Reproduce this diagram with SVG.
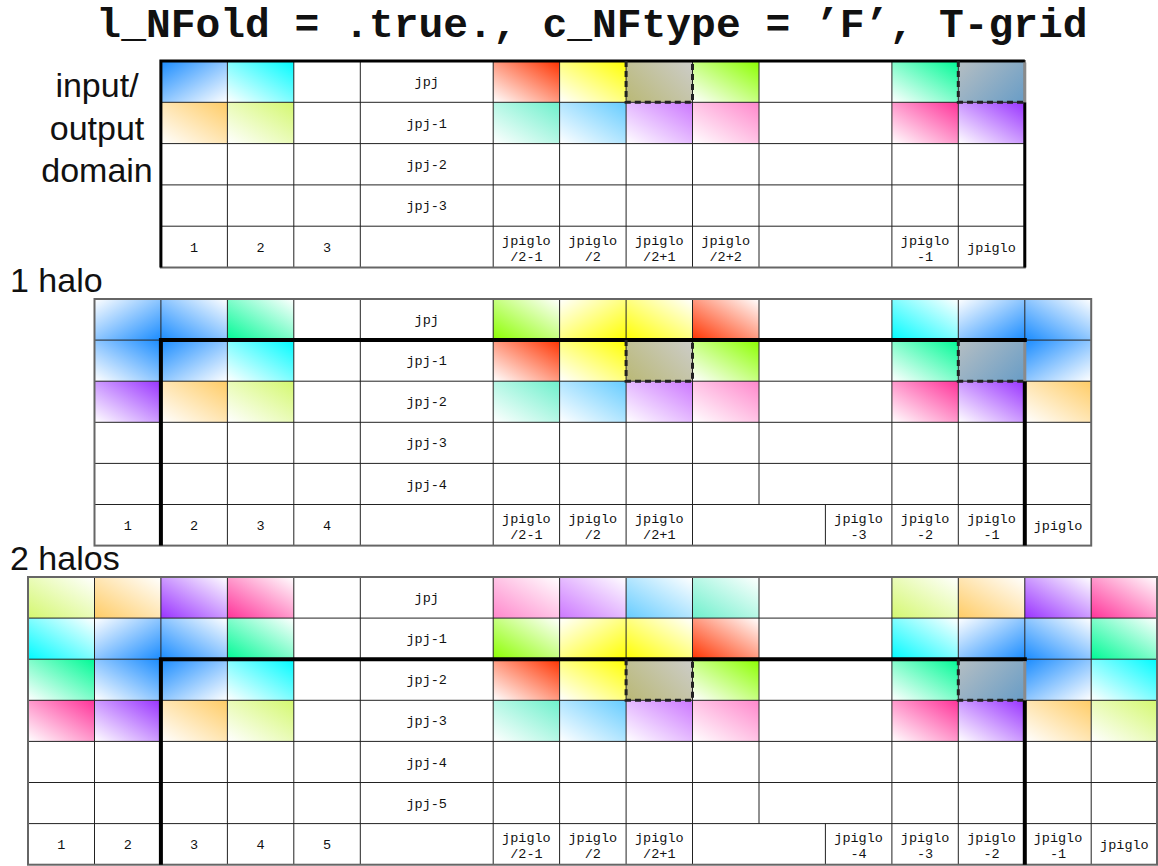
<svg xmlns="http://www.w3.org/2000/svg" width="1158" height="866" viewBox="0 0 1158 866">
<defs>
<style>
.g{stroke:#222;stroke-width:1;fill:none}
.o{fill:none;stroke:#666;stroke-width:2}
.lb{font-family:'Liberation Mono','Courier New',monospace;font-size:13.5px;fill:#111;text-anchor:middle}
.big{font-family:'Liberation Sans',Arial,Helvetica,sans-serif;font-size:34px;fill:#111}
.tt{font-family:'Liberation Mono','Courier New',monospace;font-size:41.3px;font-weight:bold;fill:#111;text-anchor:middle}
.tk{stroke:#000;stroke-width:4;fill:none;stroke-linejoin:miter}
.tk3{stroke:#000;stroke-width:3;fill:none;stroke-linejoin:miter}
.tg{stroke:#8a8a8a;stroke-width:3;fill:none}
.ds{stroke:#222;stroke-width:3;stroke-dasharray:6 4;fill:none}
</style>
<linearGradient id="Bu" x1="0" y1="1" x2="1" y2="0"><stop offset="0" stop-color="#fff"/><stop offset="1" stop-color="#1a8cff"/></linearGradient>
<linearGradient id="Bd" href="#Bu" x1="1" y1="0" x2="0" y2="1"/>
<linearGradient id="Btl" href="#Bu" x1="1" y1="1" x2="0" y2="0"/>
<linearGradient id="Bbr" href="#Bu" x1="0" y1="0" x2="1" y2="1"/>
<linearGradient id="Cu" x1="0" y1="1" x2="1" y2="0"><stop offset="0" stop-color="#fff"/><stop offset="1" stop-color="#00fbff"/></linearGradient>
<linearGradient id="Cd" href="#Cu" x1="1" y1="0" x2="0" y2="1"/>
<linearGradient id="Su" x1="0" y1="1" x2="1" y2="0"><stop offset="0" stop-color="#fff"/><stop offset="1" stop-color="#00fa96"/></linearGradient>
<linearGradient id="Sd" href="#Su" x1="1" y1="0" x2="0" y2="1"/>
<linearGradient id="Ru" x1="0" y1="1" x2="1" y2="0"><stop offset="0" stop-color="#fff"/><stop offset="1" stop-color="#ff3300"/></linearGradient>
<linearGradient id="Rd" href="#Ru" x1="1" y1="0" x2="0" y2="1"/>
<linearGradient id="Yu" x1="0" y1="1" x2="1" y2="0"><stop offset="0" stop-color="#fff"/><stop offset="1" stop-color="#ffff00"/></linearGradient>
<linearGradient id="Yd" href="#Yu" x1="1" y1="0" x2="0" y2="1"/>
<linearGradient id="Ybr" href="#Yu" x1="0" y1="0" x2="1" y2="1"/>
<linearGradient id="Lu" x1="0" y1="1" x2="1" y2="0"><stop offset="0" stop-color="#fff"/><stop offset="1" stop-color="#8cff00"/></linearGradient>
<linearGradient id="Ld" href="#Lu" x1="1" y1="0" x2="0" y2="1"/>
<linearGradient id="Ou" x1="0" y1="1" x2="1" y2="0"><stop offset="0" stop-color="#fff"/><stop offset="1" stop-color="#ffcc66"/></linearGradient>
<linearGradient id="Od" href="#Ou" x1="1" y1="0" x2="0" y2="1"/>
<linearGradient id="Gu" x1="0" y1="1" x2="1" y2="0"><stop offset="0" stop-color="#fff"/><stop offset="1" stop-color="#d4f870"/></linearGradient>
<linearGradient id="Gd" href="#Gu" x1="1" y1="0" x2="0" y2="1"/>
<linearGradient id="Au" x1="0" y1="1" x2="1" y2="0"><stop offset="0" stop-color="#fff"/><stop offset="1" stop-color="#6ef0cc"/></linearGradient>
<linearGradient id="Ad" href="#Au" x1="1" y1="0" x2="0" y2="1"/>
<linearGradient id="Ku" x1="0" y1="1" x2="1" y2="0"><stop offset="0" stop-color="#fff"/><stop offset="1" stop-color="#66ccff"/></linearGradient>
<linearGradient id="Kd" href="#Ku" x1="1" y1="0" x2="0" y2="1"/>
<linearGradient id="Pu" x1="0" y1="1" x2="1" y2="0"><stop offset="0" stop-color="#fff"/><stop offset="1" stop-color="#cc77ff"/></linearGradient>
<linearGradient id="Pd" href="#Pu" x1="1" y1="0" x2="0" y2="1"/>
<linearGradient id="Nu" x1="0" y1="1" x2="1" y2="0"><stop offset="0" stop-color="#fff"/><stop offset="1" stop-color="#ff88cc"/></linearGradient>
<linearGradient id="Nd" href="#Nu" x1="1" y1="0" x2="0" y2="1"/>
<linearGradient id="Hu" x1="0" y1="1" x2="1" y2="0"><stop offset="0" stop-color="#fff"/><stop offset="1" stop-color="#ff3399"/></linearGradient>
<linearGradient id="Hd" href="#Hu" x1="1" y1="0" x2="0" y2="1"/>
<linearGradient id="Vu" x1="0" y1="1" x2="1" y2="0"><stop offset="0" stop-color="#fff"/><stop offset="1" stop-color="#9933ff"/></linearGradient>
<linearGradient id="Vd" href="#Vu" x1="1" y1="0" x2="0" y2="1"/>
<linearGradient id="Ol" x1="0" y1="0.8" x2="1" y2="0.2"><stop offset="0" stop-color="#bbba7c"/><stop offset="1" stop-color="#cbcbc3"/></linearGradient>
<linearGradient id="Gb" x1="0" y1="0.2" x2="1" y2="0.8"><stop offset="0" stop-color="#b0bcc3"/><stop offset="1" stop-color="#6e9fc6"/></linearGradient>
</defs>
<rect width="1158" height="866" fill="#fff"/>

<g id="title"><text class="tt" x="592" y="37">l_NFold = .true., c_NFtype = ’F’, T-grid</text></g>

<g id="section-labels">
<text class="big" x="97" y="97" text-anchor="middle">input/</text>
<text class="big" x="97" y="139.5" text-anchor="middle">output</text>
<text class="big" x="97" y="181.5" text-anchor="middle">domain</text>
<text class="big" x="10" y="292">1 halo</text>
<text class="big" x="10" y="570">2 halos</text>
</g>

<!-- ===== input/output domain grid ===== -->
<g id="grid-domain">
<g id="domain-cells">
<rect id="d-r0-c1" x="160.9" y="61" width="66.5" height="41.3" fill="url(#Btl)"/>
<rect id="d-r0-c2" x="227.4" y="61" width="66.4" height="41.3" fill="url(#Cu)"/>
<rect id="d-r0-h1" x="493.2" y="61" width="66.4" height="41.3" fill="url(#Ru)"/>
<rect id="d-r0-h2" x="559.6" y="61" width="66.5" height="41.3" fill="url(#Yu)"/>
<rect id="d-r0-h3" x="626.1" y="61" width="66.4" height="41.3" fill="url(#Ol)"/>
<rect id="d-r0-h4" x="692.5" y="61" width="66.5" height="41.3" fill="url(#Lu)"/>
<rect id="d-r0-e1" x="891.9" y="61" width="66.4" height="41.3" fill="url(#Su)"/>
<rect id="d-r0-e0" x="958.3" y="61" width="66.5" height="41.3" fill="url(#Gb)"/>
<rect id="d-r1-c1" x="160.9" y="102.3" width="66.5" height="41.3" fill="url(#Ou)"/>
<rect id="d-r1-c2" x="227.4" y="102.3" width="66.4" height="41.3" fill="url(#Gu)"/>
<rect id="d-r1-h1" x="493.2" y="102.3" width="66.4" height="41.3" fill="url(#Au)"/>
<rect id="d-r1-h2" x="559.6" y="102.3" width="66.5" height="41.3" fill="url(#Ku)"/>
<rect id="d-r1-h3" x="626.1" y="102.3" width="66.4" height="41.3" fill="url(#Pu)"/>
<rect id="d-r1-h4" x="692.5" y="102.3" width="66.5" height="41.3" fill="url(#Nu)"/>
<rect id="d-r1-e1" x="891.9" y="102.3" width="66.4" height="41.3" fill="url(#Hu)"/>
<rect id="d-r1-e0" x="958.3" y="102.3" width="66.5" height="41.3" fill="url(#Vu)"/>
</g>
<path class="g" d="M160.9 102.3H1024.8M160.9 143.6H1024.8M160.9 184.9H1024.8M160.9 226.2H1024.8M227.4 61V267.5M293.8 61V267.5M360.3 61V267.5M493.2 61V267.5M559.6 61V267.5M626.1 61V267.5M692.5 61V267.5M759 61V267.5M891.9 61V267.5M958.3 61V267.5"/>
<rect class="o" x="160.9" y="61" width="863.9" height="206.5"/>
<g id="domain-labels">
<text class="lb" x="426.7" y="86.2">jpj</text>
<text class="lb" x="426.7" y="127.5">jpj-1</text>
<text class="lb" x="426.7" y="168.8">jpj-2</text>
<text class="lb" x="426.7" y="210.1">jpj-3</text>
<text class="lb" x="194.1" y="252">1</text>
<text class="lb" x="260.6" y="252">2</text>
<text class="lb" x="327.1" y="252">3</text>
<text class="lb" x="526.4" y="244.9">jpiglo<tspan x="526.4" y="260.9">/2-1</tspan></text>
<text class="lb" x="592.8" y="244.9">jpiglo<tspan x="592.8" y="260.9">/2</tspan></text>
<text class="lb" x="659.3" y="244.9">jpiglo<tspan x="659.3" y="260.9">/2+1</tspan></text>
<text class="lb" x="725.7" y="244.9">jpiglo<tspan x="725.7" y="260.9">/2+2</tspan></text>
<text class="lb" x="925.1" y="244.9">jpiglo<tspan x="925.1" y="260.9">-1</tspan></text>
<text class="lb" x="991.5" y="251.5">jpiglo</text>
</g>
</g>

<!-- ===== 1 halo grid ===== -->
<g id="grid-1halo">
<g id="h1-cells">
<rect x="94.5" y="299" width="66.4" height="41.1" fill="url(#Bbr)"/>
<rect x="160.9" y="299" width="66.5" height="41.1" fill="url(#Bd)"/>
<rect x="227.4" y="299" width="66.4" height="41.1" fill="url(#Sd)"/>
<rect x="493.2" y="299" width="66.4" height="41.1" fill="url(#Ld)"/>
<rect x="559.6" y="299" width="66.5" height="41.1" fill="url(#Ybr)"/>
<rect x="626.1" y="299" width="66.4" height="41.1" fill="url(#Yd)"/>
<rect x="692.5" y="299" width="66.5" height="41.1" fill="url(#Rd)"/>
<rect x="891.9" y="299" width="66.4" height="41.1" fill="url(#Cd)"/>
<rect x="958.3" y="299" width="66.5" height="41.1" fill="url(#Bbr)"/>
<rect x="1024.8" y="299" width="66.4" height="41.1" fill="url(#Bd)"/>

<rect x="94.5" y="340.1" width="66.4" height="41.1" fill="url(#Bu)"/>
<rect x="160.9" y="340.1" width="66.5" height="41.1" fill="url(#Btl)"/>
<rect x="227.4" y="340.1" width="66.4" height="41.1" fill="url(#Cu)"/>
<rect x="493.2" y="340.1" width="66.4" height="41.1" fill="url(#Ru)"/>
<rect x="559.6" y="340.1" width="66.5" height="41.1" fill="url(#Yu)"/>
<rect x="626.1" y="340.1" width="66.4" height="41.1" fill="url(#Ol)"/>
<rect x="692.5" y="340.1" width="66.5" height="41.1" fill="url(#Lu)"/>
<rect x="891.9" y="340.1" width="66.4" height="41.1" fill="url(#Su)"/>
<rect x="958.3" y="340.1" width="66.5" height="41.1" fill="url(#Gb)"/>
<rect x="1024.8" y="340.1" width="66.4" height="41.1" fill="url(#Btl)"/>

<rect x="94.5" y="381.2" width="66.4" height="41.1" fill="url(#Vu)"/>
<rect x="160.9" y="381.2" width="66.5" height="41.1" fill="url(#Ou)"/>
<rect x="227.4" y="381.2" width="66.4" height="41.1" fill="url(#Gu)"/>
<rect x="493.2" y="381.2" width="66.4" height="41.1" fill="url(#Au)"/>
<rect x="559.6" y="381.2" width="66.5" height="41.1" fill="url(#Ku)"/>
<rect x="626.1" y="381.2" width="66.4" height="41.1" fill="url(#Pu)"/>
<rect x="692.5" y="381.2" width="66.5" height="41.1" fill="url(#Nu)"/>
<rect x="891.9" y="381.2" width="66.4" height="41.1" fill="url(#Hu)"/>
<rect x="958.3" y="381.2" width="66.5" height="41.1" fill="url(#Vu)"/>
<rect x="1024.8" y="381.2" width="66.4" height="41.1" fill="url(#Ou)"/>
</g>
<path class="g" d="M94.5 340.1H1091.2M94.5 381.2H1091.2M94.5 422.3H1091.2M94.5 463.4H1091.2M94.5 504.5H1091.2M160.9 299V545.6M227.4 299V545.6M293.8 299V545.6M360.3 299V545.6M493.2 299V545.6M559.6 299V545.6M626.1 299V545.6M692.5 299V545.6M891.9 299V545.6M958.3 299V545.6M1024.8 299V545.6M759 299V504.5M825.4 504.5V545.6"/>
<rect class="o" x="94.5" y="299" width="996.7" height="246.6"/>
<g id="h1-labels">
<text class="lb" x="426.7" y="324.1">jpj</text>
<text class="lb" x="426.7" y="365.2">jpj-1</text>
<text class="lb" x="426.7" y="406.3">jpj-2</text>
<text class="lb" x="426.7" y="447.4">jpj-3</text>
<text class="lb" x="426.7" y="488.5">jpj-4</text>
<text class="lb" x="127.7" y="530">1</text>
<text class="lb" x="194.1" y="530">2</text>
<text class="lb" x="260.6" y="530">3</text>
<text class="lb" x="327.1" y="530">4</text>
<text class="lb" x="526.4" y="523">jpiglo<tspan x="526.4" y="539">/2-1</tspan></text>
<text class="lb" x="592.8" y="523">jpiglo<tspan x="592.8" y="539">/2</tspan></text>
<text class="lb" x="659.3" y="523">jpiglo<tspan x="659.3" y="539">/2+1</tspan></text>
<text class="lb" x="858.6" y="523">jpiglo<tspan x="858.6" y="539">-3</tspan></text>
<text class="lb" x="925.1" y="523">jpiglo<tspan x="925.1" y="539">-2</tspan></text>
<text class="lb" x="991.5" y="523">jpiglo<tspan x="991.5" y="539">-1</tspan></text>
<text class="lb" x="1058" y="529.5">jpiglo</text>
</g>
</g>

<!-- ===== 2 halos grid ===== -->
<g id="grid-2halos">
<g id="h2-cells">
<rect x="28" y="577" width="66.5" height="41.1" fill="url(#Gd)"/>
<rect x="94.5" y="577" width="66.4" height="41.1" fill="url(#Od)"/>
<rect x="160.9" y="577" width="66.5" height="41.1" fill="url(#Vd)"/>
<rect x="227.4" y="577" width="66.4" height="41.1" fill="url(#Hd)"/>
<rect x="493.2" y="577" width="66.4" height="41.1" fill="url(#Nd)"/>
<rect x="559.6" y="577" width="66.5" height="41.1" fill="url(#Pd)"/>
<rect x="626.1" y="577" width="66.4" height="41.1" fill="url(#Kd)"/>
<rect x="692.5" y="577" width="66.5" height="41.1" fill="url(#Ad)"/>
<rect x="891.9" y="577" width="66.4" height="41.1" fill="url(#Gd)"/>
<rect x="958.3" y="577" width="66.5" height="41.1" fill="url(#Od)"/>
<rect x="1024.8" y="577" width="66.4" height="41.1" fill="url(#Vd)"/>
<rect x="1091.2" y="577" width="66.5" height="41.1" fill="url(#Hd)"/>

<rect x="28" y="618.1" width="66.5" height="41.1" fill="url(#Cd)"/>
<rect x="94.5" y="618.1" width="66.4" height="41.1" fill="url(#Bbr)"/>
<rect x="160.9" y="618.1" width="66.5" height="41.1" fill="url(#Bd)"/>
<rect x="227.4" y="618.1" width="66.4" height="41.1" fill="url(#Sd)"/>
<rect x="493.2" y="618.1" width="66.4" height="41.1" fill="url(#Ld)"/>
<rect x="559.6" y="618.1" width="66.5" height="41.1" fill="url(#Ybr)"/>
<rect x="626.1" y="618.1" width="66.4" height="41.1" fill="url(#Yd)"/>
<rect x="692.5" y="618.1" width="66.5" height="41.1" fill="url(#Rd)"/>
<rect x="891.9" y="618.1" width="66.4" height="41.1" fill="url(#Cd)"/>
<rect x="958.3" y="618.1" width="66.5" height="41.1" fill="url(#Bbr)"/>
<rect x="1024.8" y="618.1" width="66.4" height="41.1" fill="url(#Bd)"/>
<rect x="1091.2" y="618.1" width="66.5" height="41.1" fill="url(#Sd)"/>

<rect x="28" y="659.2" width="66.5" height="41.1" fill="url(#Su)"/>
<rect x="94.5" y="659.2" width="66.4" height="41.1" fill="url(#Bu)"/>
<rect x="160.9" y="659.2" width="66.5" height="41.1" fill="url(#Btl)"/>
<rect x="227.4" y="659.2" width="66.4" height="41.1" fill="url(#Cu)"/>
<rect x="493.2" y="659.2" width="66.4" height="41.1" fill="url(#Ru)"/>
<rect x="559.6" y="659.2" width="66.5" height="41.1" fill="url(#Yu)"/>
<rect x="626.1" y="659.2" width="66.4" height="41.1" fill="url(#Ol)"/>
<rect x="692.5" y="659.2" width="66.5" height="41.1" fill="url(#Lu)"/>
<rect x="891.9" y="659.2" width="66.4" height="41.1" fill="url(#Su)"/>
<rect x="958.3" y="659.2" width="66.5" height="41.1" fill="url(#Gb)"/>
<rect x="1024.8" y="659.2" width="66.4" height="41.1" fill="url(#Btl)"/>
<rect x="1091.2" y="659.2" width="66.5" height="41.1" fill="url(#Cu)"/>

<rect x="28" y="700.3" width="66.5" height="41.1" fill="url(#Hu)"/>
<rect x="94.5" y="700.3" width="66.4" height="41.1" fill="url(#Vu)"/>
<rect x="160.9" y="700.3" width="66.5" height="41.1" fill="url(#Ou)"/>
<rect x="227.4" y="700.3" width="66.4" height="41.1" fill="url(#Gu)"/>
<rect x="493.2" y="700.3" width="66.4" height="41.1" fill="url(#Au)"/>
<rect x="559.6" y="700.3" width="66.5" height="41.1" fill="url(#Ku)"/>
<rect x="626.1" y="700.3" width="66.4" height="41.1" fill="url(#Pu)"/>
<rect x="692.5" y="700.3" width="66.5" height="41.1" fill="url(#Nu)"/>
<rect x="891.9" y="700.3" width="66.4" height="41.1" fill="url(#Hu)"/>
<rect x="958.3" y="700.3" width="66.5" height="41.1" fill="url(#Vu)"/>
<rect x="1024.8" y="700.3" width="66.4" height="41.1" fill="url(#Ou)"/>
<rect x="1091.2" y="700.3" width="66.5" height="41.1" fill="url(#Gu)"/>
</g>
<path class="g" d="M28 618.1H1157.7M28 659.2H1157.7M28 700.3H1157.7M28 741.4H1157.7M28 782.5H1157.7M28 823.6H1157.7M94.5 577V864.7M160.9 577V864.7M227.4 577V864.7M293.8 577V864.7M360.3 577V864.7M493.2 577V864.7M559.6 577V864.7M626.1 577V864.7M692.5 577V864.7M891.9 577V864.7M958.3 577V864.7M1024.8 577V864.7M1091.2 577V864.7M759 577V823.6M825.4 823.6V864.7"/>
<rect class="o" x="28" y="577" width="1129" height="287.7"/>
<g id="h2-labels">
<text class="lb" x="426.7" y="602.1">jpj</text>
<text class="lb" x="426.7" y="643.2">jpj-1</text>
<text class="lb" x="426.7" y="684.3">jpj-2</text>
<text class="lb" x="426.7" y="725.4">jpj-3</text>
<text class="lb" x="426.7" y="766.5">jpj-4</text>
<text class="lb" x="426.7" y="807.6">jpj-5</text>
<text class="lb" x="61.3" y="849">1</text>
<text class="lb" x="127.7" y="849">2</text>
<text class="lb" x="194.1" y="849">3</text>
<text class="lb" x="260.6" y="849">4</text>
<text class="lb" x="327.1" y="849">5</text>
<text class="lb" x="526.4" y="842">jpiglo<tspan x="526.4" y="858">/2-1</tspan></text>
<text class="lb" x="592.8" y="842">jpiglo<tspan x="592.8" y="858">/2</tspan></text>
<text class="lb" x="659.3" y="842">jpiglo<tspan x="659.3" y="858">/2+1</tspan></text>
<text class="lb" x="858.6" y="842">jpiglo<tspan x="858.6" y="858">-4</tspan></text>
<text class="lb" x="925.1" y="842">jpiglo<tspan x="925.1" y="858">-3</tspan></text>
<text class="lb" x="991.5" y="842">jpiglo<tspan x="991.5" y="858">-2</tspan></text>
<text class="lb" x="1058" y="842">jpiglo<tspan x="1058" y="858">-1</tspan></text>
<text class="lb" x="1124.4" y="848.5">jpiglo</text>
</g>
</g>

<!-- ===== domain boundaries and fold markers ===== -->
<g id="connectors">
<path class="tk3" d="M160.9 267.5V61H1024.8M1024.8 102.3V267.5"/>
<path class="tg" d="M1024.8 62.5V102.3"/>
<path class="tk" d="M160.9 545.6V340.1H1026.8M1024.8 381.2V545.6"/>
<path class="tg" d="M1024.8 342.1V381.2"/>
<path class="tk" d="M160.9 864.7V659.2H1026.8M1024.8 700.3V864.7"/>
<path class="tg" d="M1024.8 661.2V700.3"/>
<path class="ds" d="M626.1 61V102.3H692.5V61"/>
<path class="ds" d="M958.3 61V102.3H1024.8"/>
<path class="ds" d="M626.1 340.1V381.2H692.5V340.1"/>
<path class="ds" d="M958.3 340.1V381.2H1024.8"/>
<path class="ds" d="M626.1 659.2V700.3H692.5V659.2"/>
<path class="ds" d="M958.3 659.2V700.3H1024.8"/>
</g>
</svg>
